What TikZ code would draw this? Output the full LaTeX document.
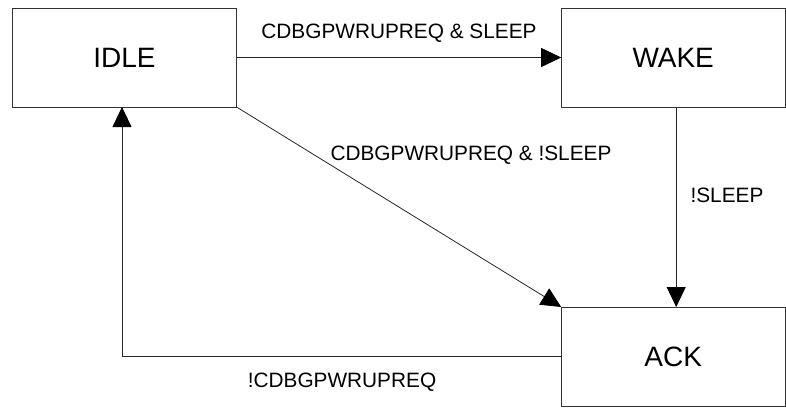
\documentclass[tikz,border=0pt]{standalone}
\usepackage{fontspec}
\setmainfont{Liberation Sans}
\usetikzlibrary{arrows.meta}
\begin{document}
\begin{tikzpicture}[x=1bp,y=-1bp,
  state/.style={draw=black!80, line width=0.9bp, rectangle, inner sep=0pt, outer sep=0pt,
    minimum width=224bp, minimum height=99bp, font=\fontsize{28bp}{32bp}\selectfont},
  lbl/.style={inner sep=0pt, font=\fontsize{20.8bp}{24bp}\selectfont},
  conn/.style={draw=black!85, line width=0.8bp, -{Triangle[length=20bp,width=19bp,color=black]}}]
\useasboundingbox (0,0) rectangle (786,407);
\node[state] (IDLE) at (124.5,57.5) {IDLE};
\node[state] (WAKE) at (673.2,57.5) {WAKE};
\node[state] (ACK) at (673.2,356.5) {ACK};
\draw[conn] (IDLE.east) -- (WAKE.west);
\draw[conn] (IDLE.south east) -- (ACK.north west);
\draw[conn] ([xshift=3bp]WAKE.south) -- ([xshift=3bp]ACK.north);
\draw[conn] (ACK.west) -| ([xshift=-2.5bp]IDLE.south);
\node[lbl] (l1) at (399,33) {CDBGPWRUPREQ \& SLEEP};
\node[lbl] (l2) at (471,155) {CDBGPWRUPREQ \& !SLEEP};
\node[lbl] (l3) at (727,195) {!SLEEP};
\node[lbl] (l4) at (342,382) {!CDBGPWRUPREQ};
\end{tikzpicture}
\end{document}
